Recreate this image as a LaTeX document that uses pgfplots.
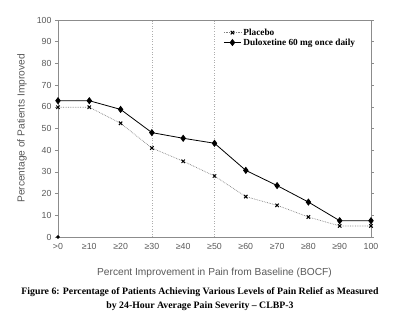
\documentclass[border=0pt]{standalone}
\usepackage{pgfplots}
\pgfplotsset{compat=1.18}
\usepackage{fontspec}
\setmainfont{Liberation Sans}
\newfontfamily\timesfont{Liberation Serif}
\definecolor{axgray}{gray}{0.55}
\definecolor{refgray}{gray}{0.68}
\definecolor{txtgray}{gray}{0.35}
\begin{document}
\begin{tikzpicture}[x=1pt,y=1pt]
\path[use as bounding box] (-58,-88) rectangle (342,237);
\begin{axis}[
  at={(0,0)}, anchor=south west,
  width=313pt, height=217pt, scale only axis,
  xmin=0, xmax=10, ymin=0, ymax=100,
  clip=false,
  axis line style={axgray, line width=0.8pt},
  xtick={0,...,10},
  xticklabels={{>0},{≥10},{≥20},{≥30},{≥40},{≥50},{≥60},{≥70},{≥80},{≥90},{100}},
  ytick={0,10,...,100},
  tick align=outside,
  xtick style={draw=none},
  ytick style={axgray, line width=0.6pt},
  major tick length=3pt,
  tick label style={font=\fontsize{8.8}{9}\selectfont, text=txtgray},
  /pgf/number format/assume math mode=true,
  xlabel={Percent Improvement in Pain from Baseline (BOCF)},
  ylabel={Percentage of Patients Improved},
  label style={font=\fontsize{10.2}{11}\selectfont, text=txtgray},
  xlabel style={at={(axis description cs:0.5,0)}, anchor=center, yshift=-36pt},
  ylabel style={at={(axis description cs:0,0.5)}, anchor=center, yshift=36pt},
  legend style={at={(rel axis cs:0.525,0.975)}, anchor=north west, draw=none, fill=none,
    font=\timesfont\bfseries\fontsize{9.3}{10}\selectfont, row sep=-2pt,
    inner sep=1pt},
  legend cell align=left,
]
% Placebo
\addplot[gray, densely dotted, line width=0.7pt,
  mark=x, mark size=2.4pt, mark options={black, solid, line width=1pt}]
  coordinates {(0,59.8) (1,59.8) (2,52.4) (3,41.0) (4,34.9) (5,28.1)
               (6,18.6) (7,14.6) (8,9.2) (9,5.1) (10,5.1)};
\addlegendentry{Placebo}
% Duloxetine 60 mg once daily
\addplot[black, line width=0.8pt,
  mark=diamond*, mark size=3pt, mark options={black}]
  coordinates {(0,62.8) (1,62.8) (2,58.8) (3,48.1) (4,45.5) (5,43.2)
               (6,30.7) (7,23.7) (8,16.1) (9,7.5) (10,7.5)};
\addlegendentry{Duloxetine 60 mg once daily}
% reference lines at 30% and 50% improvement
\addplot[refgray, dotted, line width=0.6pt, forget plot] coordinates {(3,0) (3,100)};
\addplot[refgray, dotted, line width=0.6pt, forget plot] coordinates {(5,0) (5,100)};
\addplot[only marks, mark=*, mark size=1.6pt, black, forget plot] coordinates {(0,0)};
\end{axis}
\node[font=\timesfont\bfseries\fontsize{9.8}{14}\selectfont, align=center, anchor=center]
  at (142,-62) {Figure 6: Percentage of Patients Achieving Various Levels of Pain Relief as Measured\\by 24-Hour Average Pain Severity – CLBP-3};
\end{tikzpicture}
\end{document}
